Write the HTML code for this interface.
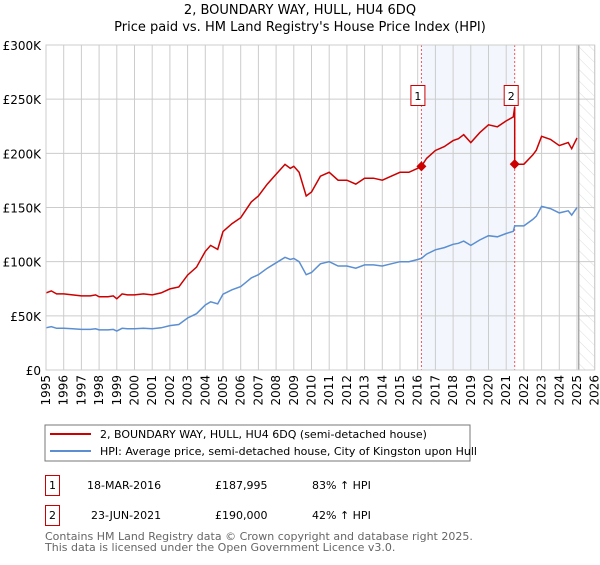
<!DOCTYPE html>
<html><head><meta charset="utf-8"><style>
body{margin:0;background:#fff;font-family:"Liberation Sans","DejaVu Sans",sans-serif;}
svg text{font-family:"DejaVu Sans","Liberation Sans",sans-serif;}
</style></head><body>
<svg id="c" width="600" height="560" xmlns="http://www.w3.org/2000/svg">
<defs><pattern id="hatch" width="8" height="8" patternUnits="userSpaceOnUse" patternTransform="rotate(-45)"><line x1="0" y1="0" x2="0" y2="8" stroke="#ddd" stroke-width="1"/></pattern></defs>
<text x="300" y="14" text-anchor="middle" font-size="13">2, BOUNDARY WAY, HULL, HU4 6DQ</text>
<text x="300" y="31" text-anchor="middle" font-size="13">Price paid vs. HM Land Registry's House Price Index (HPI)</text>
<g id="plot"></g>
<rect x="45" y="425" width="425" height="36" fill="#fff" stroke="#777"/>
<line x1="50" y1="434" x2="91" y2="434" stroke="#cc0000" stroke-width="2"/>
<text x="100" y="438" font-size="11">2, BOUNDARY WAY, HULL, HU4 6DQ (semi-detached house)</text>
<line x1="50" y1="451" x2="91" y2="451" stroke="#5b8fd1" stroke-width="2"/>
<text x="100" y="455" font-size="11">HPI: Average price, semi-detached house, City of Kingston upon Hull</text>
<g font-size="11">
<rect x="45.5" y="475.5" width="14" height="20" fill="#fff" stroke="#cc0000"/>
<text x="52.5" y="489" text-anchor="middle">1</text>
<text x="87" y="489">18-MAR-2016</text>
<text x="215" y="489">£187,995</text>
<text x="312" y="489">83% ↑ HPI</text>
<rect x="45.5" y="505.5" width="14" height="20" fill="#fff" stroke="#cc0000"/>
<text x="52.5" y="519" text-anchor="middle">2</text>
<text x="91" y="519">23-JUN-2021</text>
<text x="215" y="519">£190,000</text>
<text x="312" y="519">42% ↑ HPI</text>
</g>
<text x="45" y="540" font-size="11" fill="#666">Contains HM Land Registry data © Crown copyright and database right 2025.</text>
<text x="45" y="551" font-size="11" fill="#666">This data is licensed under the Open Government Licence v3.0.</text>
</svg>
<script>
const hpiYears=[1995,1995.3,1995.6,1996,1996.5,1997,1997.5,1997.8,1998,1998.5,1998.8,1999,1999.3,1999.6,2000,2000.5,2001,2001.5,2002,2002.5,2003,2003.5,2004,2004.3,2004.7,2005,2005.5,2006,2006.3,2006.6,2007,2007.5,2008,2008.5,2008.8,2009,2009.3,2009.7,2010,2010.5,2011,2011.5,2012,2012.5,2013,2013.5,2014,2014.5,2015,2015.5,2016,2016.21,2016.5,2017,2017.5,2018,2018.3,2018.6,2019,2019.5,2020,2020.5,2021,2021.4,2021.48,2021.8,2022,2022.5,2022.7,2023,2023.5,2024,2024.5,2024.7,2025];
const hpiValues=[39,40,38.5,38.5,38,37.5,37.5,38,37,37,37.5,36,38.5,38,38,38.5,38,39,41,42,48,52,60,63,61,70,74,77,81,85,88,94,99,104,102,103,100,88,90,98,100,96,96,94,97,97,96,98,100,100,102,103,107,111,113,116,117,119,115,120,124,123,126,128,133,133,133,139,142,151,149,145,147,143,150,156];
const saleYears=[2016.21,2021.48];
const salePrices=[187995,190000];
const saleLabels=["1","2"];
const yTicks=[0,50,100,150,200,250,300];
const yTickLabels=["£0","£50K","£100K","£150K","£200K","£250K","£300K"];
const xTicks=[1995,1996,1997,1998,1999,2000,2001,2002,2003,2004,2005,2006,2007,2008,2009,2010,2011,2012,2013,2014,2015,2016,2017,2018,2019,2020,2021,2022,2023,2024,2025,2026];

const L=46,R=594.7,T=45,B=370;
const x=v=>L+(v-1995)*(R-L)/31;
const y=v=>B-v*(B-T)/300;
const NS="http://www.w3.org/2000/svg";
const g=document.getElementById('plot');
function mk(tag,attrs,parent){const e=document.createElementNS(NS,tag);for(const k in attrs)e.setAttribute(k,attrs[k]);(parent||g).appendChild(e);return e;}
function hpiAt(t){for(let i=1;i<hpiYears.length;i++){if(t<=hpiYears[i]){const f=(t-hpiYears[i-1])/(hpiYears[i]-hpiYears[i-1]);return hpiValues[i-1]+f*(hpiValues[i]-hpiValues[i-1]);}}return hpiValues[hpiValues.length-1];}

let sh=mk('rect',{x:x(saleYears[0]),y:T,width:x(saleYears[1])-x(saleYears[0]),height:B-T,fill:'#eef3fc',opacity:0.7});


let ht=mk('rect',{x:x(2025.1),y:T,width:R-x(2025.1),height:B-T,fill:'url(#hatch)'});



xTicks.forEach(t=>{
  let l=mk('line',{x1:x(t),x2:x(t),y1:T,y2:B,stroke:'#ccc','stroke-width':1});
  
  
  let tx=mk('text',{x:0,y:0,'font-size':12,'text-anchor':'end',transform:`translate(${x(t)+4},${B+5}) rotate(-90)`});
  tx.textContent=t;
  
  
});
yTicks.forEach((t,i)=>{
  let l=mk('line',{x1:L,x2:R,y1:y(t),y2:y(t),stroke:'#ccc','stroke-width':1});
  
  
  let tx=mk('text',{x:L-5,y:y(t)+5,'font-size':12,'text-anchor':'end'});
  tx.textContent=yTickLabels[i];
  
  
});
let cl=mk('line',{x1:x(2025.1),x2:x(2025.1),y1:T,y2:B,stroke:'#999','stroke-width':1.2});


saleYears.forEach((s,i)=>{
  let l=mk('line',{x1:x(s),x2:x(s),y1:T,y2:B,stroke:'#ee5555','stroke-width':1,'stroke-dasharray':'2,2'});
  
  
});

let hp=hpiYears.map((t,i)=>`${i?'L':'M'}${x(t).toFixed(1)},${y(hpiValues[i]).toFixed(1)}`).join('');
let hl=mk('path',{d:hp,fill:'none',stroke:'#5b8fd1','stroke-width':1.5});



let pts=[];
hpiYears.forEach((t,i)=>{
  let k=0;for(let j=0;j<saleYears.length;j++)if(t>=saleYears[j])k=j;
  if(t===saleYears[1]){pts.push([t,hpiValues[i]*salePrices[0]/1000/hpiAt(saleYears[0])]);}
  pts.push([t,hpiValues[i]*salePrices[k]/1000/hpiAt(saleYears[k])]);
});
let rp=pts.map((p,i)=>`${i?'L':'M'}${x(p[0]).toFixed(1)},${y(p[1]).toFixed(1)}`).join('');
let rl=mk('path',{d:rp,fill:'none',stroke:'#cc0000','stroke-width':1.5});



saleYears.forEach((s,i)=>{
  let px=x(s),py=y(salePrices[i]/1000);
  let d=mk('path',{d:`M${px},${py-5}L${px+5},${py}L${px},${py+5}L${px-5},${py}Z`,fill:'#cc0000'});
  
  
  let b=mk('rect',{x:px-10.5,y:T+40.5,width:14,height:20,fill:'#fff',stroke:'#cc0000'});
  
  
  let tx=mk('text',{x:px-3.5,y:T+55,'font-size':11,'text-anchor':'middle'});
  tx.textContent=saleLabels[i];
  
  
});
let fr=mk('rect',{x:L,y:T,width:R-L,height:B-T,fill:'none',stroke:'#ccc'});


</script>
</body></html>
